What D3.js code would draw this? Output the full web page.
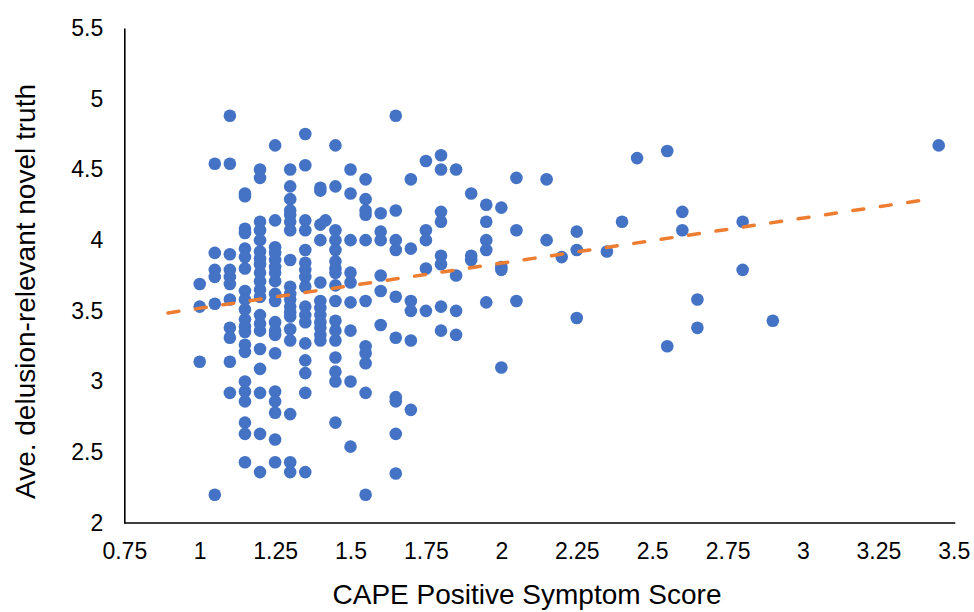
<!DOCTYPE html>
<html>
<head>
<meta charset="utf-8">
<script src="https://cdn.jsdelivr.net/npm/d3@7"></script>
<style>
  html, body { margin: 0; padding: 0; background: #ffffff; }
  svg { display: block; }
</style>
</head>
<body>
<div id="chart"></div>
<script>
// ---- Data ----
// CAPE positive symptom score levels (x) and the ave. truth ratings (y) at each level
const capeLevels = [1.0, 1.05, 1.1, 1.15, 1.2, 1.25, 1.3, 1.35, 1.4, 1.417, 1.45, 1.5, 1.55, 1.6, 1.65, 1.7, 1.75, 1.8, 1.85, 1.9, 1.95, 2.0, 2.05, 2.15, 2.2, 2.25, 2.35, 2.4, 2.45, 2.55, 2.6, 2.65, 2.8, 2.9, 3.45];
const truthAtLevel = [
  [3.69, 3.53, 3.14],
  [4.54, 3.91, 3.79, 3.74, 3.55, 2.20],
  [4.88, 4.54, 3.90, 3.79, 3.74, 3.69, 3.58, 3.38, 3.31, 3.14, 2.92],
  [4.33, 4.31, 4.08, 4.05, 3.94, 3.88, 3.80, 3.64, 3.58, 3.51, 3.44, 3.39, 3.35, 3.26, 3.21, 3.00, 2.93, 2.86, 2.71, 2.63, 2.43],
  [4.50, 4.44, 4.13, 4.07, 4.00, 3.92, 3.87, 3.83, 3.77, 3.71, 3.65, 3.60, 3.47, 3.41, 3.36, 3.23, 3.09, 2.92, 2.63, 2.36],
  [4.67, 4.14, 3.95, 3.91, 3.86, 3.81, 3.77, 3.71, 3.62, 3.57, 3.42, 3.36, 3.33, 3.20, 2.93, 2.86, 2.78, 2.59, 2.43],
  [4.50, 4.38, 4.29, 4.21, 4.18, 4.13, 4.07, 3.86, 3.67, 3.62, 3.58, 3.53, 3.49, 3.46, 3.37, 3.29, 2.77, 2.43, 2.36],
  [4.75, 4.53, 4.14, 4.07, 3.93, 3.84, 3.79, 3.74, 3.67, 3.53, 3.47, 3.42, 3.27, 3.15, 3.06, 2.92, 2.36],
  [4.37, 4.35, 4.11, 4.00, 3.70, 3.57, 3.52, 3.47, 3.42, 3.38, 3.33, 3.29],
  [4.14],
  [4.67, 4.38, 4.07, 4.00, 3.93, 3.85, 3.80, 3.77, 3.68, 3.57, 3.43, 3.36, 3.29, 3.17, 3.07, 3.00, 2.71],
  [4.50, 4.33, 4.00, 3.77, 3.70, 3.56, 3.36, 3.00, 2.54],
  [4.43, 4.29, 4.21, 4.18, 4.00, 3.57, 3.25, 3.20, 3.13, 2.92, 2.20],
  [4.19, 4.06, 4.00, 3.75, 3.64, 3.40],
  [4.88, 4.21, 4.00, 3.93, 3.60, 3.31, 2.89, 2.86, 2.63, 2.35],
  [4.43, 3.94, 3.57, 3.50, 3.29, 2.80],
  [4.56, 4.07, 4.00, 3.80, 3.50],
  [4.60, 4.50, 4.20, 4.13, 3.89, 3.83, 3.53, 3.36],
  [4.50, 3.75, 3.50, 3.33],
  [4.33, 3.89, 3.86],
  [4.25, 4.13, 4.00, 3.93, 3.56],
  [4.23, 3.81, 3.79, 3.10],
  [4.44, 4.07, 3.57],
  [4.43, 4.00],
  [3.88],
  [4.06, 3.93, 3.45],
  [3.92],
  [4.13],
  [4.58],
  [4.63, 3.25],
  [4.20, 4.07],
  [3.58, 3.38],
  [4.13, 3.79],
  [3.43],
  [4.67]
];
// Linear trendline end points
const trendX = [0.895, 3.42];
const trendY = [3.485, 4.29];

// Axis ticks
const xTicks = [0.75, 1, 1.25, 1.5, 1.75, 2, 2.25, 2.5, 2.75, 3, 3.25, 3.5];
const yTicks = [2, 2.5, 3, 3.5, 4, 4.5, 5, 5.5];
const xTitle = "CAPE Positive Symptom Score";
const yTitle = "Ave. delusion-relevant novel truth";

// ---- Build points ----
const points = [];
capeLevels.forEach((c, i) => truthAtLevel[i].forEach(t => points.push({ x: c, y: t })));

const W = 974, H = 612;
const svg = d3.select("#chart").append("svg")
  .attr("width", W).attr("height", H)
  .style("font-family", "'Liberation Sans', Arial, sans-serif");

const x = d3.scaleLinear().domain([0.75, 3.5]).range([124.3, 953.8]);
const y = d3.scaleLinear().domain([2, 5.5]).range([523, 28]);

// Axes
const xAxis = d3.axisBottom(x).tickValues(xTicks).tickSize(0).tickPadding(20).tickFormat(d => String(d));
const yAxis = d3.axisLeft(y).tickValues(yTicks).tickSize(0).tickPadding(21).tickFormat(d => String(d));

const gx = svg.append("g").attr("transform", `translate(0,${y(2)})`).call(xAxis);
const gy = svg.append("g").attr("transform", `translate(${x(0.75)},0)`).call(yAxis);

[gx, gy].forEach(g => {
  g.select(".domain").attr("stroke", "#000").attr("stroke-width", 1.6);
  g.selectAll("text").attr("fill", "#000").style("font-size", "23px");
});
gx.select(".domain").attr("d", `M${x(0.75)},0H${x(3.5) + 1.5}`);

// Points
svg.append("g").selectAll("circle")
  .data(points)
  .join("circle")
  .attr("cx", d => x(d.x))
  .attr("cy", d => y(d.y))
  .attr("r", 6.3)
  .attr("fill", "#4472C4");

// Trendline
const trendPts = trendX.map((v, i) => [v, trendY[i]]);
svg.append("path")
  .datum(trendPts)
  .attr("d", d3.line().x(d => x(d[0])).y(d => y(d[1])))
  .attr("fill", "none")
  .attr("stroke", "#ED7D31")
  .attr("stroke-width", 3.5)
  .attr("stroke-linecap", "round")
  .attr("stroke-dasharray", "11,16.7");

// Titles
svg.append("text")
  .attr("x", 527).attr("y", 604)
  .attr("text-anchor", "middle")
  .attr("fill", "#000")
  .style("font-size", "28px")
  .text(xTitle);

svg.append("text")
  .attr("transform", `translate(35,291.5) rotate(-90)`)
  .attr("text-anchor", "middle")
  .attr("fill", "#000")
  .style("font-size", "28px")
  .text(yTitle);
</script>
</body>
</html>
